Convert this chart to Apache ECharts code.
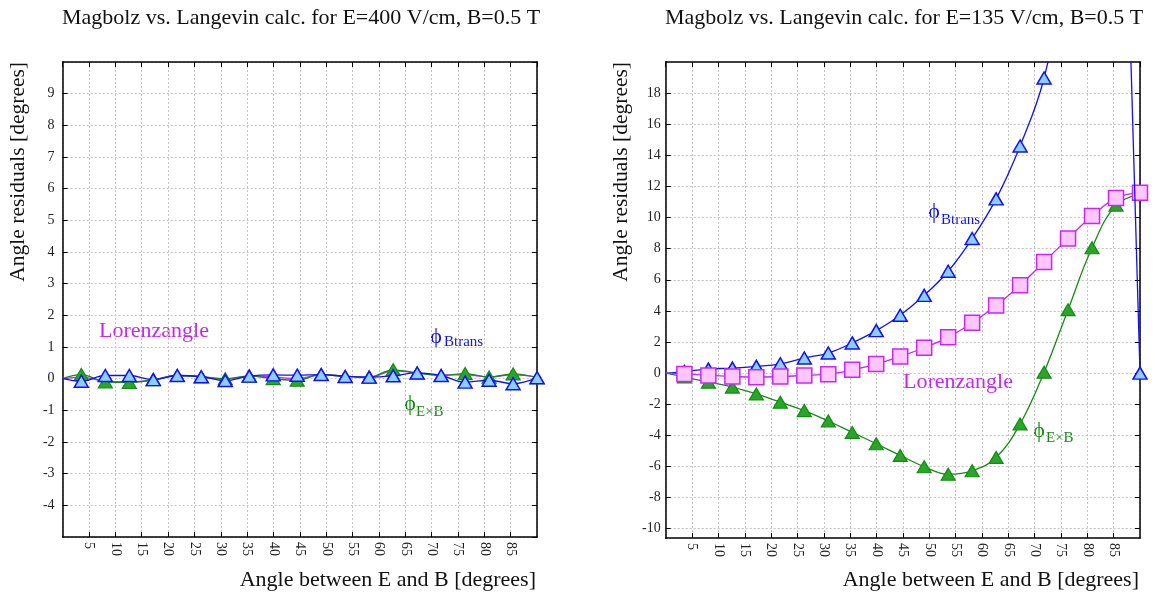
<!DOCTYPE html>
<html>
<head>
<meta charset="utf-8">
<script src="https://cdn.jsdelivr.net/npm/echarts@6/dist/echarts.min.js"></script>
<style>
html,body{margin:0;padding:0;background:#fff;}
#main{width:1155px;height:594px;}
</style>
</head>
<body>
<div id="main"></div>
<script>
// ---------- data ----------
const angles = [0, 3.55, 8.1, 12.65, 17.2, 21.75, 26.3, 30.85, 35.4, 39.95, 44.5, 49.05, 53.6, 58.15, 62.7, 67.25, 71.8, 76.35, 80.9, 85.45, 90];

// Left: E=400 V/cm
const leftBtrans = [0, -0.08, 0.1, 0.1, -0.03, 0.1, 0.06, -0.06, 0.08, 0.12, 0.11, 0.13, 0.07, 0.05, 0.09, 0.18, 0.1, -0.11, -0.05, -0.16, 0.03];
const leftExB    = [0, 0.13, -0.1, -0.12, -0.03, 0.1, 0.06, 0.0, 0.08, 0.0, -0.05, 0.13, 0.07, 0.05, 0.28, 0.18, 0.1, 0.16, 0.05, 0.15, 0.03];
const leftLorenz = [0, 0.05, -0.08, -0.1, -0.05, 0.1, 0.06, -0.02, 0.08, 0.05, 0.0, 0.13, 0.08, 0.03, 0.25, 0.18, 0.12, 0.12, 0.05, 0.12, 0.05];

// Right: E=135 V/cm
const rightBtrans = [0, 0.1, 0.26, 0.32, 0.43, 0.6, 0.97, 1.29, 1.94, 2.73, 3.72, 5.0, 6.55, 8.65, 11.2, 14.6, 18.97, 27, 38, 53, 0];
const rightExB    = [0, -0.25, -0.58, -0.9, -1.34, -1.87, -2.41, -3.08, -3.81, -4.54, -5.29, -6.02, -6.5, -6.28, -5.42, -3.27, 0.06, 4.08, 8.06, 10.8, 11.5];
const rightLorenz = [0, -0.05, -0.15, -0.22, -0.26, -0.22, -0.15, -0.07, 0.21, 0.58, 1.07, 1.63, 2.3, 3.23, 4.34, 5.65, 7.14, 8.66, 10.1, 11.25, 11.6];

const rightYTicks = [-10, -8, -6, -4, -2, 0, 2, 4, 6, 8, 10, 12, 14, 16, 18];

const titles = ['Magbolz vs. Langevin calc. for E=400 V/cm, B=0.5 T', 'Magbolz vs. Langevin calc. for E=135 V/cm, B=0.5 T'];
const xName = 'Angle between E and B [degrees]';
const yName = 'Angle residuals [degrees]';

// ---------- styling ----------
const FONT = '"Liberation Serif", "DejaVu Serif", "Times New Roman", serif';
const BLUE = '#1010ff', BLUE_FILL = '#8ccfff';
const GREEN = '#138c13', GREEN_FILL = '#2aa52a';
const MAG = '#cc22ff', MAG_FILL = '#ffc6ff';

function pairs(xs, ys) { return xs.map((x, i) => [x, ys[i]]); }
const nLast = angles.length - 1;

const grids = [
  {left: 62.6, top: 62, width: 474.5, height: 475},
  {left: 665.7, top: 62, width: 474.3, height: 476}
];

const frameLine = {show: true, onZero: false, lineStyle: {color: '#000', width: 1.5}};
const gridLine = {show: true, lineStyle: {color: '#c4c4c4', type: [2, 2], width: 1}};

function xAxes(gi) {
  return [
    {gridIndex: gi, type: 'value', min: 0, max: 90, interval: 5, position: 'bottom',
      axisLine: frameLine, axisTick: {inside: true, length: 5, lineStyle: {color: '#000'}},
      axisLabel: {rotate: -90, showMinLabel: false, showMaxLabel: false, margin: 5,
        fontFamily: FONT, fontSize: 14, color: '#222'},
      splitLine: gridLine},
    {gridIndex: gi, type: 'value', min: 0, max: 90, interval: 5, position: 'top',
      axisLine: frameLine, axisTick: {inside: true, length: 5, lineStyle: {color: '#000'}},
      axisLabel: {show: false}, splitLine: {show: false}}
  ];
}

const triSym = (v, p) => p.dataIndex === 0 ? 'none' : 'triangle';

const option = {
  animation: false,
  backgroundColor: '#fff',
  title: [
    {text: titles[0], left: 62, top: 7, padding: 0, textStyle: {fontFamily: FONT, fontSize: 22, fontWeight: 'normal', color: '#111'}},
    {text: titles[1], left: 665, top: 7, padding: 0, textStyle: {fontFamily: FONT, fontSize: 22, fontWeight: 'normal', color: '#111'}}
  ],
  grid: grids,
  xAxis: [...xAxes(0), ...xAxes(1)],
  yAxis: [
    {gridIndex: 0, type: 'value', min: -5, max: 10, interval: 1, position: 'left',
      axisLine: frameLine, axisTick: {inside: true, length: 5, lineStyle: {color: '#000'}},
      axisLabel: {showMinLabel: false, showMaxLabel: false, margin: 8, fontFamily: FONT, fontSize: 14, color: '#222'},
      splitLine: gridLine},
    {gridIndex: 0, type: 'value', min: -5, max: 10, interval: 1, position: 'right',
      axisLine: frameLine, axisTick: {inside: true, length: 5, lineStyle: {color: '#000'}},
      axisLabel: {show: false}, splitLine: {show: false}},
    {gridIndex: 1, type: 'value', min: -10.6, max: 20, position: 'left',
      axisLine: frameLine, axisTick: {inside: true, length: 5, customValues: rightYTicks, lineStyle: {color: '#000'}},
      axisLabel: {customValues: rightYTicks, margin: 5, fontFamily: FONT, fontSize: 14, color: '#222'},
      splitLine: gridLine},
    {gridIndex: 1, type: 'value', min: -10.6, max: 20, position: 'right',
      axisLine: frameLine, axisTick: {inside: true, length: 5, customValues: rightYTicks, lineStyle: {color: '#000'}},
      axisLabel: {show: false}, splitLine: {show: false}}
  ],
  series: [
    // left plot
    {type: 'line', xAxisIndex: 0, yAxisIndex: 0, data: pairs(angles, leftLorenz), smooth: 0.4,
      symbol: 'none', lineStyle: {color: MAG, width: 1.3}, z: 2},
    {type: 'line', xAxisIndex: 0, yAxisIndex: 0, data: pairs(angles, leftExB), smooth: 0.4,
      symbol: triSym, symbolSize: [14, 12],
      lineStyle: {color: GREEN, width: 1.3}, itemStyle: {color: GREEN_FILL, borderColor: GREEN, borderWidth: 1.2}, z: 3},
    {type: 'line', xAxisIndex: 0, yAxisIndex: 0, data: pairs(angles, leftBtrans), smooth: 0.4,
      symbol: triSym, symbolSize: [14, 12],
      lineStyle: {color: BLUE, width: 1.3}, itemStyle: {color: BLUE_FILL, borderColor: BLUE, borderWidth: 1.5}, z: 4},
    // right plot
    {type: 'line', xAxisIndex: 2, yAxisIndex: 2, data: pairs(angles, rightExB), smooth: 0.4,
      symbol: triSym, symbolSize: [14, 12],
      lineStyle: {color: GREEN, width: 1.3}, itemStyle: {color: GREEN_FILL, borderColor: GREEN, borderWidth: 1.2}, z: 2},
    // blue curve: smooth part up to the last-but-one point
    {type: 'line', xAxisIndex: 2, yAxisIndex: 2, data: pairs(angles, rightBtrans).slice(0, nLast), smooth: 0.4,
      symbol: triSym, symbolSize: [14, 12],
      lineStyle: {color: BLUE, width: 1.3}, itemStyle: {color: BLUE_FILL, borderColor: BLUE, borderWidth: 1.5}, z: 3},
    // blue curve: final steep drop back to zero at 90 degrees
    {type: 'line', xAxisIndex: 2, yAxisIndex: 2, data: pairs(angles, rightBtrans).slice(nLast - 1), smooth: false,
      symbol: (v, p) => p.dataIndex === 0 ? 'none' : 'triangle', symbolSize: [14, 12],
      lineStyle: {color: BLUE, width: 1.3}, itemStyle: {color: BLUE_FILL, borderColor: BLUE, borderWidth: 1.5}, z: 5},
    {type: 'line', xAxisIndex: 2, yAxisIndex: 2, data: pairs(angles, rightLorenz), smooth: 0.4,
      symbol: (v, p) => p.dataIndex === 0 ? 'none' : 'rect', symbolSize: 15,
      lineStyle: {color: MAG, width: 1.3}, itemStyle: {color: MAG_FILL, borderColor: MAG, borderWidth: 1.5}, z: 4}
  ],
  graphic: [
    // axis names
    {type: 'text', x: 18, y: 62, rotation: Math.PI / 2,
      style: {text: yName, font: '21.5px ' + FONT, fill: '#111', align: 'right', verticalAlign: 'middle'}},
    {type: 'text', x: 621, y: 62, rotation: Math.PI / 2,
      style: {text: yName, font: '21.5px ' + FONT, fill: '#111', align: 'right', verticalAlign: 'middle'}},
    {type: 'text', x: 536, y: 580,
      style: {text: xName, font: '22px ' + FONT, fill: '#111', align: 'right', verticalAlign: 'middle'}},
    {type: 'text', x: 1139, y: 580,
      style: {text: xName, font: '22px ' + FONT, fill: '#111', align: 'right', verticalAlign: 'middle'}},
    // left annotations
    {type: 'text', x: 99, y: 331, style: {text: 'Lorenzangle', font: '22px ' + FONT, fill: MAG, align: 'left', verticalAlign: 'middle'}},
    {type: 'text', x: 436, y: 337, style: {text: 'ϕ', font: '22px ' + FONT, fill: BLUE, align: 'center', verticalAlign: 'middle'}},
    {type: 'text', x: 444, y: 342.5, style: {text: 'Btrans', font: '15px ' + FONT, fill: BLUE, align: 'left', verticalAlign: 'middle'}},
    {type: 'text', x: 410, y: 404, style: {text: 'ϕ', font: '22px ' + FONT, fill: GREEN, align: 'center', verticalAlign: 'middle'}},
    {type: 'text', x: 416, y: 412, style: {text: 'E×B', font: '15px ' + FONT, fill: GREEN, align: 'left', verticalAlign: 'middle'}},
    // right annotations
    {type: 'text', x: 903, y: 382, style: {text: 'Lorenzangle', font: '22px ' + FONT, fill: MAG, align: 'left', verticalAlign: 'middle'}},
    {type: 'text', x: 934, y: 212, style: {text: 'ϕ', font: '22px ' + FONT, fill: BLUE, align: 'center', verticalAlign: 'middle'}},
    {type: 'text', x: 941, y: 220, style: {text: 'Btrans', font: '15px ' + FONT, fill: BLUE, align: 'left', verticalAlign: 'middle'}},
    {type: 'text', x: 1039, y: 431, style: {text: 'ϕ', font: '22px ' + FONT, fill: GREEN, align: 'center', verticalAlign: 'middle'}},
    {type: 'text', x: 1046, y: 438.5, style: {text: 'E×B', font: '15px ' + FONT, fill: GREEN, align: 'left', verticalAlign: 'middle'}}
  ]
};

const chart = echarts.init(document.getElementById('main'), null, {renderer: 'canvas'});
chart.setOption(option);
</script>
</body>
</html>
